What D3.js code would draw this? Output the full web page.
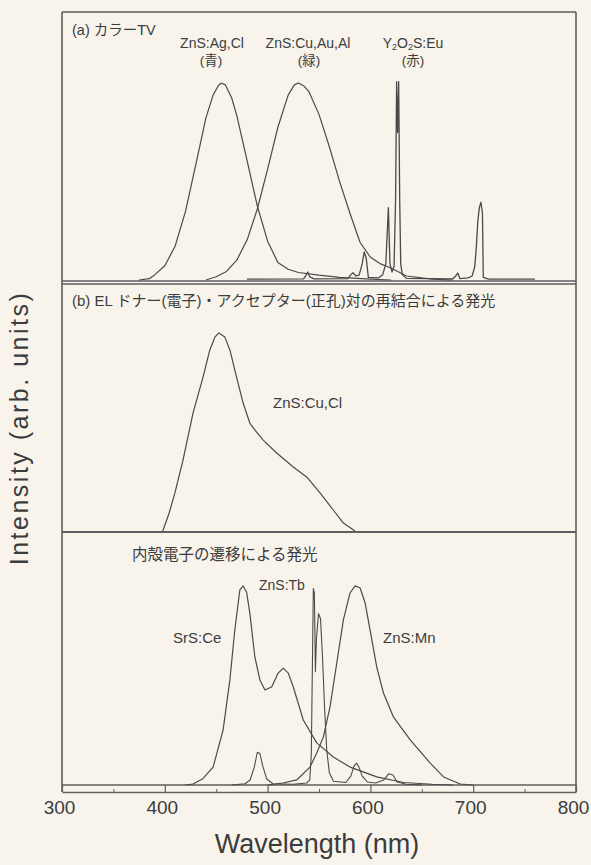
<!DOCTYPE html>
<html><head><meta charset="utf-8">
<script src="https://cdn.jsdelivr.net/npm/d3@7"></script>
<style>
html,body{margin:0;padding:0;background:#f8f4ec;}
svg{display:block;}
text{font-family:"Liberation Sans","Noto Sans CJK JP",sans-serif;fill:#3c3c3c;}
</style></head><body>
<svg id="chart" width="591" height="865"></svg>
<script>
// ---- data (wavelength nm, intensity arb.) ----
const xTicks = [300, 400, 500, 600, 700, 800];
const xMinorTicks = [350, 450, 550, 650, 750];

// panel (a) colour TV phosphors
const blueAgCl = [[375,0],[385,0.5],[390,1.9],[400,5.3],[410,12.6],[420,25.4],[430,42.8],[440,60.5],[447,69],[452,72.5],[455,73.5],[459,72.8],[465,68],[470,61.4],[480,44.6],[490,27.6],[500,14.5],[510,6.5],[520,4],[530,2.8],[550,1.8],[570,1],[600,0.3],[620,0]];
const greenCuAuAl = [[440,0],[450,1.2],[460,3.2],[470,7.4],[480,14.9],[490,26.5],[500,41.4],[510,57],[520,69],[526,72.8],[530,73.5],[535,72.5],[540,70.4],[550,61.8],[560,49.8],[570,36.8],[580,25],[590,14],[600,8.5],[610,6],[620,4.5],[635,1.5],[660,0.3],[680,0]];
const redEu = [[480,0.3],[535,0.4],[537,1.5],[539,3],[541,1.2],[545,0.4],[578,0.5],[581,2],[583,2.7],[586,1.5],[589,1.8],[592,6],[594,10.5],[596,8],[598,1],[608,0.8],[612,2],[615,6],[617.5,27],[619,6],[621,3],[623,5],[624.5,30],[625.5,74],[626.5,55],[627.5,74],[628.5,30],[629.5,6],[631,2],[635,0.6],[680,0.4],[683,1.5],[685,2.6],[687,0.5],[695,0.8],[699,1.5],[701.5,5],[703,12],[704.5,22],[706,27],[707.5,29],[709,25],[709.8,1],[715,0.3],[760,0.3]];

// panel (b) EL donor-acceptor pair
const znsCuCl = [[398,0],[404,7],[409.6,15],[417.7,28.7],[427.5,47.8],[437.2,62.3],[443.8,73.3],[448.7,78.5],[452.5,80.2],[458.4,78.5],[463.3,73.3],[469.8,62.3],[476.2,51.8],[482.7,43.7],[489.3,40],[495.7,36.8],[508.8,31.6],[525,25.9],[538,21.9],[551,15.4],[563.9,8.5],[573.7,3.2],[585,0]];

// panel (c) inner-shell transitions
const srsCe = [[420,0],[427.5,0.4],[437,2.5],[447,7.1],[456.7,21.8],[463.3,41.7],[468.1,61.5],[473,77.4],[476.2,79],[479.5,76.6],[482.7,68.3],[487.6,50.8],[492.5,41.7],[497.4,37.7],[503.9,38.9],[510.3,44.4],[515.2,46.4],[520.1,44.4],[525,38.9],[534.7,25.8],[547.8,16.7],[563.9,11.1],[580.2,7.1],[606.2,3.2],[632.2,1],[660,0.3],[680,0]];
const znsMn = [[500,0],[515,0.8],[528.3,2],[541.2,7.1],[547.8,12.7],[554.2,19],[560.7,31],[567.3,48.4],[573.7,65.5],[580.2,76.2],[585.1,79],[590,78.2],[594.9,72.2],[599.7,61.5],[606.2,46.8],[612.7,36.5],[622.4,27],[638.7,17.9],[658.2,8.7],[671.2,3.2],[687.4,0.4],[700,0]];
const znsTb = [[465,0],[478,0.5],[483,2],[487,7],[490,13],[492.5,12.5],[495,8],[499,2.5],[505,0.5],[525,0.3],[538,0.8],[541,2],[542.5,12],[543.5,45],[544.5,78],[545.5,76],[546.5,45],[547.5,58],[549.5,68],[551.5,66],[553.5,50],[555.5,30],[557.5,14],[560,5],[564,1.5],[576,1],[581,3.5],[584,7.5],[586.5,8.7],[589,7],[592,3.5],[597,1.2],[605,0.8],[613,2],[618,4.5],[622,4],[626,1.2],[635,0.3],[650,0]];

// ---- drawing ----
const svg = d3.select("#chart");
const L = 62, R = 576;
const x = d3.scaleLinear().domain([300, 800]).range([L, R]);
const yA = d3.scaleLinear().domain([0, 100]).range([280, 12]);
const yB = d3.scaleLinear().domain([0, 100]).range([531, 284]);
const yC = d3.scaleLinear().domain([0, 100]).range([785, 533]);

const lineCol = "#4a4a4a";
const frameCol = "#5e5e5e";

function drawSeries(data, y, w) {
  svg.append("path").datum(data)
    .attr("fill", "none").attr("stroke", lineCol).attr("stroke-width", w || 1.2)
    .attr("stroke-linejoin", "round")
    .attr("d", d3.line().x(d => x(d[0])).y(d => y(d[1])));
}

// frame
const g = svg.append("g").attr("stroke", frameCol).attr("fill", "none");
g.append("line").attr("x1", L).attr("x2", L).attr("y1", 12).attr("y2", 792).attr("stroke-width", 1.6);
g.append("line").attr("x1", R).attr("x2", R).attr("y1", 12).attr("y2", 792).attr("stroke-width", 1.6);
g.append("line").attr("x1", L).attr("x2", R).attr("y1", 12).attr("y2", 12).attr("stroke-width", 1.6);
g.append("line").attr("x1", L).attr("x2", R).attr("y1", yA(0) + 1).attr("y2", yA(0) + 1).attr("stroke-width", 1.4);
g.append("line").attr("x1", L).attr("x2", R).attr("y1", yA(0) + 4).attr("y2", yA(0) + 4).attr("stroke-width", 1.4);
g.append("line").attr("x1", L).attr("x2", R).attr("y1", yB(0) + 1).attr("y2", yB(0) + 1).attr("stroke-width", 2);
g.append("line").attr("x1", L).attr("x2", R).attr("y1", yC(0)).attr("y2", yC(0)).attr("stroke-width", 1.4);

// series
drawSeries(blueAgCl, yA);
drawSeries(greenCuAuAl, yA);
drawSeries(redEu, yA, 1.3);
drawSeries(znsCuCl, yB);
drawSeries(srsCe, yC);
drawSeries(znsMn, yC);
drawSeries(znsTb, yC, 1.1);

// bottom axis
const axisY = 792;
const ax = svg.append("g").attr("transform", `translate(0,${axisY})`)
  .call(d3.axisBottom(x).tickValues(xTicks).tickSize(-7).tickPadding(9).tickSizeOuter(0));
ax.select(".domain").attr("stroke", frameCol).attr("stroke-width", 1.6);
ax.selectAll(".tick line").attr("stroke", frameCol).attr("stroke-width", 1.2);
ax.selectAll(".tick text").attr("font-size", 19).attr("fill", "#3c3c3c")
  .attr("font-family", "Liberation Sans, sans-serif").attr("dx", -3);
const axm = svg.append("g").attr("transform", `translate(0,${axisY})`)
  .call(d3.axisBottom(x).tickValues(xMinorTicks).tickSize(-3).tickFormat(""));
axm.select(".domain").remove();
axm.selectAll(".tick line").attr("stroke", frameCol).attr("stroke-width", 1);

// labels
function label(t, xx, yy, size, anchor) {
  return svg.append("text").attr("x", xx).attr("y", yy).attr("font-size", size)
    .attr("text-anchor", anchor || "start").text(t);
}
label("(a)  カラーTV", 72, 35, 14.5);
label("ZnS:Ag,Cl", 212, 48, 14, "middle");
label("(青)", 211, 65, 13.5, "middle");
label("ZnS:Cu,Au,Al", 308, 48, 14, "middle");
label("(緑)", 309, 65, 13.5, "middle");
const eu = svg.append("text").attr("x", 413).attr("y", 48).attr("font-size", 14).attr("text-anchor", "middle");
eu.append("tspan").text("Y");
eu.append("tspan").attr("font-size", 9).attr("dy", 1.5).text("2");
eu.append("tspan").attr("dy", -1.5).text("O");
eu.append("tspan").attr("font-size", 9).attr("dy", 1.5).text("2");
eu.append("tspan").attr("dy", -1.5).text("S:Eu");
label("(赤)", 413, 65, 13.5, "middle");

label("(b)  EL  ドナー(電子)・アクセプター(正孔)対の再結合による発光", 72, 306, 15);
label("ZnS:Cu,Cl", 273, 408, 15);

label("内殻電子の遷移による発光", 132, 560, 15.5);
label("ZnS:Tb", 259, 590, 14);
label("SrS:Ce", 173, 643, 15);
label("ZnS:Mn", 383, 643, 15);

label("Wavelength (nm)", 317, 853, 27, "middle");
svg.append("text").attr("transform", "translate(28,428) rotate(-90)")
  .attr("text-anchor", "middle").attr("font-size", 25).attr("letter-spacing", 2.5)
  .attr("fill", "#454545")
  .text("Intensity (arb. units)");
</script>
</body></html>
